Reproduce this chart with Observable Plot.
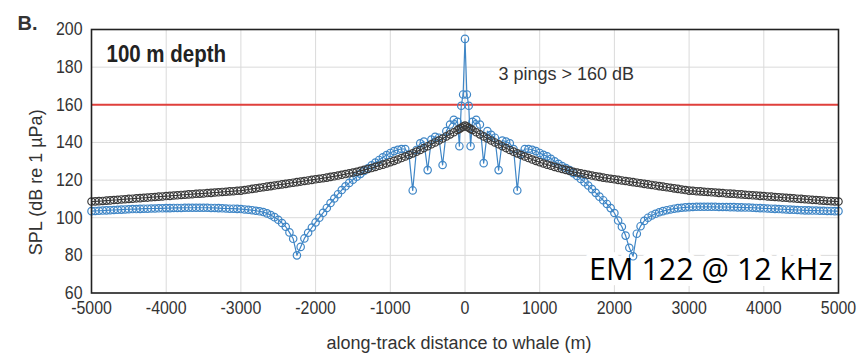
<!DOCTYPE html>
<html>
<head>
<meta charset="utf-8">
<script src="https://cdn.jsdelivr.net/npm/d3@7"></script>
<script src="https://cdn.jsdelivr.net/npm/@observablehq/plot@0.6"></script>
<style>
  body { margin: 0; background: #fff; }
  #chart svg { display: block; }
</style>
</head>
<body>
<div id="chart"></div>
<script>
// Along-track distance of each ping relative to the whale (m)
const distance = [
  -5000,-4950,-4900,-4850,-4800,-4750,-4700,-4650,-4600,-4550,
  -4500,-4450,-4400,-4350,-4300,-4250,-4200,-4150,-4100,-4050,
  -4000,-3950,-3900,-3850,-3800,-3750,-3700,-3650,-3600,-3550,
  -3500,-3450,-3400,-3350,-3300,-3250,-3200,-3150,-3100,-3050,
  -3000,-2950,-2900,-2850,-2800,-2750,-2700,-2650,-2600,-2550,
  -2500,-2450,-2400,-2350,-2300,-2250,-2200,-2150,-2100,-2050,
  -2000,-1950,-1900,-1850,-1800,-1750,-1700,-1650,-1600,-1550,
  -1500,-1450,-1400,-1350,-1300,-1250,-1200,-1150,-1100,-1050,
  -1000,-950,-900,-850,-800,-750,-700,-650,-600,-550,
  -500,-450,-400,-350,-300,-250,-200,-150,-100,
  -75,-50,-25,0,25,50,75,
  100,150,200,250,300,350,400,450,500,
  550,600,650,700,750,800,850,900,950,1000,
  1050,1100,1150,1200,1250,1300,1350,1400,1450,1500,
  1550,1600,1650,1700,1750,1800,1850,1900,1950,2000,
  2050,2100,2150,2200,2250,2300,2350,2400,2450,2500,
  2550,2600,2650,2700,2750,2800,2850,2900,2950,3000,
  3050,3100,3150,3200,3250,3300,3350,3400,3450,3500,
  3550,3600,3650,3700,3750,3800,3850,3900,3950,4000,
  4050,4100,4150,4200,4250,4300,4350,4400,4450,4500,
  4550,4600,4650,4700,4750,4800,4850,4900,4950,5000
];

// Received level including the beam pattern (blue)
const splBeam = [
  103.5,103.6,103.7,103.8,103.9,104.0,104.1,104.2,104.3,104.4,
  104.5,104.6,104.6,104.7,104.8,104.8,104.9,104.9,105.0,105.0,
  105.1,105.1,105.2,105.2,105.2,105.3,105.3,105.3,105.3,105.3,
  105.3,105.3,105.2,105.2,105.1,105.0,104.9,104.8,104.8,104.7,
  104.6,104.4,104.2,104.0,103.7,103.4,103.0,102.3,101.4,100.3,
  98.9,97.2,95.2,92.2,88.8,80.0,84.5,89.0,92.0,94.8,
  97.5,100.0,102.6,105.2,107.8,110.2,112.5,114.7,116.7,118.5,
  120.2,121.8,123.3,124.8,126.3,127.8,129.3,130.7,132.1,133.3,
  134.4,135.4,136.1,136.5,136.5,133.5,114.5,136.0,139.5,140.5,
  125.3,141.5,143.0,142.5,128.0,146.0,149.5,152.0,151.0,
  138.0,159.5,165.5,195.0,165.5,159.5,138.0,
  151.0,152.0,149.5,129.0,146.0,144.0,142.5,125.3,141.0,
  140.5,139.5,136.5,114.5,134.0,136.5,136.5,136.1,135.4,134.4,
  133.4,132.6,131.3,130.0,128.6,127.4,126.4,125.3,123.7,122.2,
  120.6,118.9,117.1,115.2,113.2,111.2,109.3,107.3,105.1,102.5,
  98.5,95.2,90.5,84.0,79.5,91.5,95.5,98.3,100.0,101.2,
  102.1,102.9,103.5,104.0,104.4,104.8,105.1,105.3,105.5,105.6,
  105.7,105.8,105.8,105.8,105.8,105.8,105.8,105.7,105.7,105.7,
  105.6,105.6,105.5,105.5,105.4,105.4,105.3,105.2,105.1,105.0,
  104.9,104.8,104.7,104.6,104.5,104.4,104.3,104.2,104.1,104.0,
  103.9,103.9,103.8,103.8,103.7,103.7,103.6,103.6,103.5,103.5
];

// Received level for an omnidirectional source (black)
const splOmni = [
  108.6,108.7,108.8,108.9,109.1,109.2,109.4,109.5,109.7,109.8,
  110.0,110.1,110.3,110.4,110.6,110.7,110.9,111.0,111.2,111.3,
  111.5,111.6,111.8,111.9,112.1,112.2,112.4,112.5,112.7,112.8,
  112.9,113.1,113.2,113.4,113.5,113.7,113.8,114.0,114.1,114.3,
  114.4,114.7,115.0,115.3,115.6,115.9,116.2,116.5,116.8,117.1,
  117.4,117.7,118.0,118.3,118.6,118.9,119.2,119.5,119.8,120.1,
  120.4,120.7,121.0,121.3,121.7,122.0,122.4,122.8,123.2,123.6,
  124.0,124.4,124.9,125.4,125.9,126.4,127.0,127.6,128.2,128.8,
  129.5,130.2,130.9,131.7,132.5,133.3,134.2,135.1,136.0,137.0,
  138.0,139.0,140.0,141.0,142.1,143.2,144.3,145.4,146.6,
  147.2,147.8,148.4,149.0,148.4,147.8,147.2,
  146.6,145.4,144.3,143.2,142.1,141.0,140.0,139.0,138.0,
  137.0,136.0,135.1,134.2,133.3,132.5,131.7,130.9,130.2,129.5,
  128.8,128.2,127.6,127.0,126.4,125.9,125.4,124.9,124.4,124.0,
  123.6,123.2,122.8,122.4,122.0,121.7,121.3,121.0,120.7,120.4,
  120.1,119.8,119.5,119.2,118.9,118.6,118.3,118.0,117.7,117.4,
  117.1,116.8,116.5,116.2,115.9,115.6,115.3,115.0,114.7,114.4,
  114.3,114.1,114.0,113.8,113.7,113.5,113.4,113.2,113.1,112.9,
  112.8,112.7,112.5,112.4,112.2,112.1,111.9,111.8,111.6,111.5,
  111.3,111.2,111.0,110.9,110.7,110.6,110.4,110.3,110.1,110.0,
  109.8,109.7,109.5,109.4,109.2,109.1,108.9,108.8,108.7,108.6
];

const xTicks = [-5000,-4000,-3000,-2000,-1000,0,1000,2000,3000,4000,5000];
const yTicks = [60,80,100,120,140,160,180,200];
const threshold = [160];

const panelLabel = "B.";
const depthLabel = "100 m depth";
const pingNote = "3 pings > 160 dB";
const systemLabel = "EM 122 @ 12 kHz";
const xTitle = "along-track distance to whale (m)";
const yTitle = "SPL (dB re 1 µPa)";

const pings = distance.map((d, i) => ({d, beam: splBeam[i], omni: splOmni[i]}));

const sans = "'Liberation Sans', Arial, Helvetica, sans-serif";
const blue = "#3f86c6";
const dark = "#3b3b3b";

const chart = Plot.plot({
  width: 857,
  height: 361,
  marginLeft: 91,
  marginRight: 19,
  marginTop: 29,
  marginBottom: 68.5,
  style: {background: "#fff", fontFamily: sans, color: "#333"},
  x: {domain: [-5000, 5000]},
  y: {domain: [60, 200]},
  marks: [
    Plot.gridX(xTicks, {stroke: "#dadada", strokeOpacity: 1}),
    Plot.gridY(yTicks, {stroke: "#dadada", strokeOpacity: 1}),
    // white backing under the system label
    Plot.text([systemLabel], {frameAnchor: "bottom-right", textAnchor: "end", lineAnchor: "bottom",
      dx: -6, dy: -13, fontSize: 30.5, fontFamily: "'Open Sans', 'Noto Sans', sans-serif",
      fill: "white", stroke: "white", strokeWidth: 12}),
    Plot.ruleY(threshold, {stroke: "#e0403c", strokeWidth: 2}),
    Plot.line(pings, {x: "d", y: "beam", stroke: blue, strokeWidth: 1.2}),
    Plot.dot(pings, {x: "d", y: "beam", r: 3.7, stroke: blue, strokeWidth: 1.2, fill: "none"}),
    Plot.line(pings, {x: "d", y: "omni", stroke: dark, strokeWidth: 1.2}),
    Plot.dot(pings, {x: "d", y: "omni", r: 3.7, stroke: dark, strokeWidth: 1.2, fill: "none"}),
    Plot.frame({stroke: "#222", strokeWidth: 1.6}),
    Plot.axisX(xTicks, {tickSize: 0, tickPadding: 8, fontSize: 18.5,
      fill: "#333", tickFormat: d => String(d), label: null}),
    Plot.axisY(yTicks, {tickSize: 0, tickPadding: 9, fontSize: 18.5,
      fill: "#333", tickFormat: d => String(d), label: null}),
    Plot.text([panelLabel], {frameAnchor: "top-left", textAnchor: "start", lineAnchor: "top",
      dx: -74, dy: -14, fontSize: 20, fontWeight: "bold", fill: "#333"}),
    Plot.text([depthLabel], {frameAnchor: "top-left", textAnchor: "start", lineAnchor: "top",
      dx: 15, dy: 16, fontSize: 23, fontWeight: "bold", fill: "#222", className: "narrow-depth"}),
    Plot.text([pingNote], {frameAnchor: "top", textAnchor: "start", lineAnchor: "middle",
      dx: 33.5, dy: 45, fontSize: 18, fill: "#333"}),
    Plot.text([systemLabel], {frameAnchor: "bottom-right", textAnchor: "end", lineAnchor: "bottom",
      dx: -6, dy: -13, fontSize: 30.5, fontFamily: "'Open Sans', 'Noto Sans', sans-serif", fill: "#000"}),
    Plot.text([xTitle], {frameAnchor: "bottom", textAnchor: "middle", lineAnchor: "middle", dx: -6, dy: 50.5,
      fontSize: 18, fill: "#333"}),
    Plot.text([yTitle], {frameAnchor: "left", textAnchor: "middle", lineAnchor: "middle", rotate: -90,
      dx: -55, dy: 21, fontSize: 18, fill: "#333"})
  ]
});

document.getElementById("chart").appendChild(chart);

// Condense tick labels and the depth label horizontally (narrow typeface look)
function condense(selection, factor) {
  selection.each(function() {
    const len = this.getComputedTextLength();
    this.setAttribute("textLength", (len * factor).toFixed(1));
    this.setAttribute("lengthAdjust", "spacingAndGlyphs");
  });
}
const svg = d3.select(chart);
condense(svg.selectAll('g[aria-label="x-axis tick label"] text, g[aria-label="y-axis tick label"] text'), 0.86);
condense(svg.selectAll('g.narrow-depth text'), 0.89);
</script>
</body>
</html>
